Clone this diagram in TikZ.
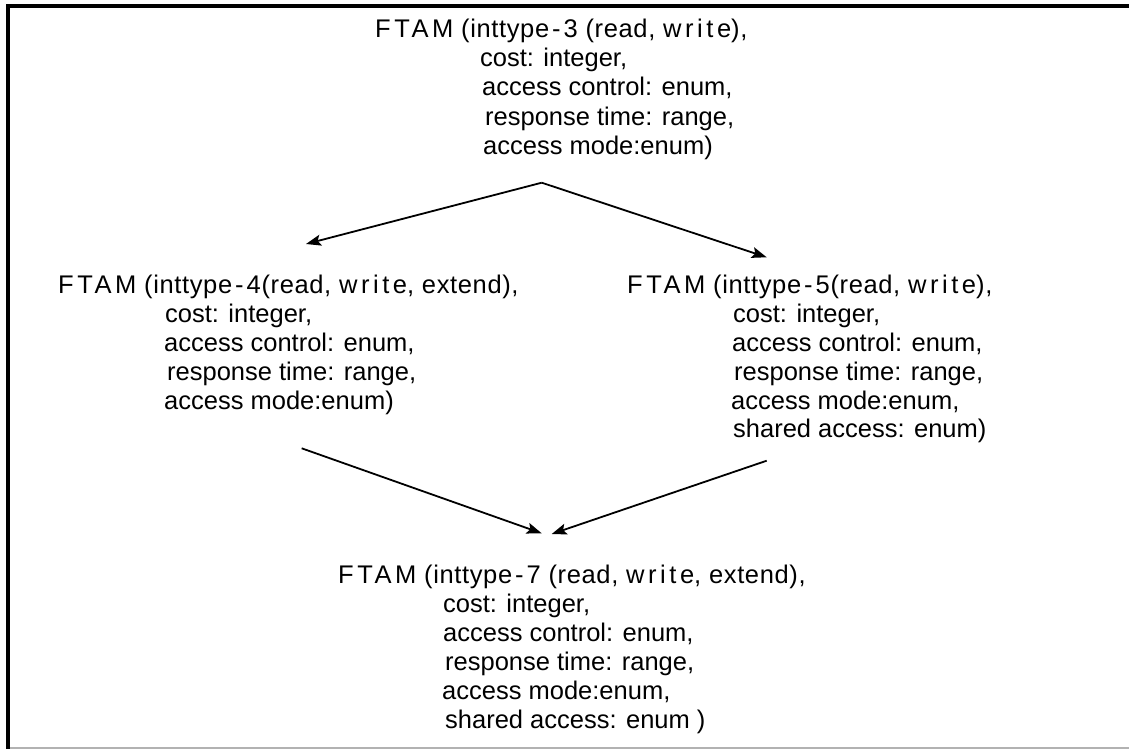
\documentclass[tikz,border=0pt]{standalone}
\usepackage{fontspec}
\setmainfont{Liberation Sans}
\newfontfamily\lblfont{Liberation Sans}
\usetikzlibrary{arrows.meta}
% widely tracked glyph runs in the headings
\newcommand\tracked[1]{{\addfontfeature{LetterSpace=14}#1}}
\newcommand\dash{\kern3pt-\kern3pt}

\begin{document}
\begin{tikzpicture}[x=1pt,y=-1pt,
  txt/.style={anchor=base west, inner sep=0pt, font=\lblfont\fontsize{25.5}{29}\selectfont},
  hdr/.style={txt, font=\lblfont\fontsize{25.5}{29}\selectfont\addfontfeature{LetterSpace=2.5}},
  link/.style={line width=1.8pt, -{Stealth[length=15pt,width=11pt,inset=3pt]}},
  ]
\useasboundingbox (0,0) rectangle (1129,749);

% frame: heavy top and left rules, light bottom rule
\draw[line width=4pt] (8,749) -- (8,6.5) -- (1129,6.5);
\draw[line width=1.5pt, gray!60] (10,748) -- (1129,748);

% top interface
\node[hdr] (t1) at (375,38)  {\tracked{FTAM} (inttype\dash3 (read, \tracked{write}),};
\node[txt] (t2) at (480,67)  {cost: integer,};
\node[txt] (t3) at (482,96)  {access control: enum,};
\node[txt] (t4) at (485,125) {response time: range,};
\node[txt] (t5) at (483,154) {access mode:enum)};

% left interface
\node[hdr] (l1) at (58,293)  {\tracked{FTAM} (inttype\dash4(read, \tracked{write}, extend),};
\node[txt] (l2) at (165,322) {cost: integer,};
\node[txt] (l3) at (164,351) {access control: enum,};
\node[txt] (l4) at (167,380) {response time: range,};
\node[txt] (l5) at (164,409) {access mode:enum)};

% right interface
\node[hdr] (r1) at (627,293) {\tracked{FTAM} (inttype\dash5(read, \tracked{write}),};
\node[txt] (r2) at (733,322) {cost: integer,};
\node[txt] (r3) at (732,351) {access control: enum,};
\node[txt] (r4) at (734,380) {response time: range,};
\node[txt] (r5) at (731,409) {access mode:enum,};
\node[txt] (r6) at (733,437) {shared access: enum)};

% bottom interface
\node[hdr] (b1) at (338,583) {\tracked{FTAM} (inttype\dash7 (read, \tracked{write}, extend),};
\node[txt] (b2) at (443,612) {cost: integer,};
\node[txt] (b3) at (443,641) {access control: enum,};
\node[txt] (b4) at (445,670) {response time: range,};
\node[txt] (b5) at (442,699) {access mode:enum,};
\node[txt] (b6) at (445,728) {shared access: enum )};

% connector end points
\coordinate (apex) at (541.7,182.7);
\coordinate (toL)  at (306,244);
\coordinate (toR)  at (766.7,257.3);
\coordinate (fromL) at (301.7,448.3);
\coordinate (fromR) at (766.7,460.7);
\coordinate (inL) at (541.7,533.3);
\coordinate (inR) at (551.7,534);

\draw[link] (apex) -- (toL);
\draw[link] (apex) -- (toR);
\draw[link] (fromL) -- (inL);
\draw[link] (fromR) -- (inR);
\end{tikzpicture}
\end{document}
